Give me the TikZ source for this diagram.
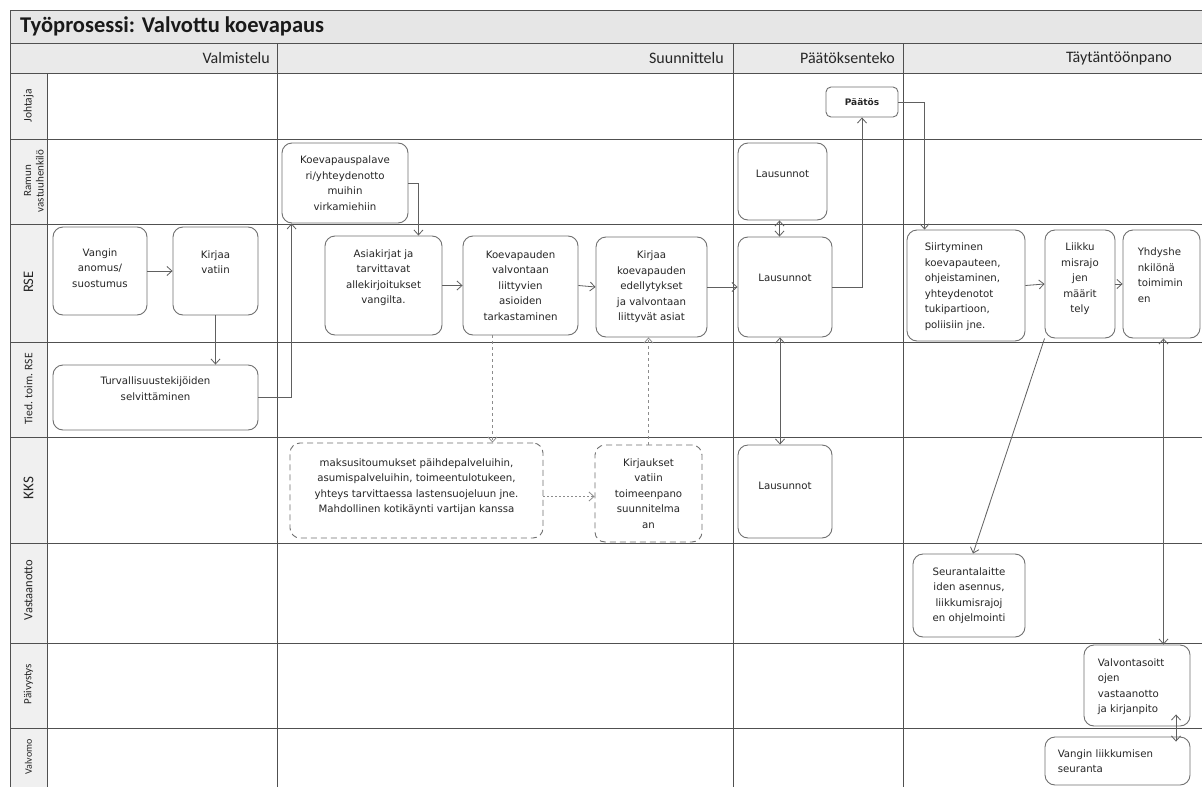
\documentclass[tikz,border=0pt]{standalone}
\usepackage{fontspec}
\usetikzlibrary{arrows.meta,calc,fit}
\newfontfamily\dvs{DejaVu Sans}
\newfontfamily\crl{Carlito}
\definecolor{linec}{HTML}{505050}
\definecolor{boxc}{HTML}{707070}
\definecolor{arrc}{HTML}{606060}
\definecolor{dashc}{HTML}{8C8C8C}
\definecolor{titlebg}{HTML}{E6E6E6}
\definecolor{headbg}{HTML}{EAEAEA}
\definecolor{lanebg}{HTML}{F0F0F0}
\newcommand\boxfont{\dvs\fontsize{10.2}{15.5}\selectfont}
\newcommand\mkbox[6]{%
  \path (#2,#3) coordinate (#1-a) (#4,#5) coordinate (#1-b);
  \node[#6, fit=(#1-a)(#1-b), inner sep=0pt] (#1) {};}
\tikzset{
  grid/.style={draw=linec, line width=1pt},
  box/.style={draw=boxc, rounded corners=10pt, line width=0.9pt, fill=white},
  sbox/.style={box, rounded corners=5pt},
  dbox/.style={box, dash pattern=on 6pt off 4pt},
  txt/.style={font=\boxfont, align=center, inner sep=0pt, text=black!85},
  ltxt/.style={font=\boxfont, align=left, inner sep=0pt, anchor=west, text=black!85},
  hlab/.style={font=\crl\fontsize{16}{18}\selectfont, inner sep=0pt, text=black!85},
  llab/.style={rotate=90, inner sep=0pt, align=center, text=black!85},
  tip/.tip={Straight Barb[length=5pt,width=9pt,line width=0.8pt]},
  arr/.style={draw=arrc, line width=0.8pt, -tip},
  dbl/.style={draw=arrc, line width=0.8pt, tip-tip},
  darr/.style={draw=dashc, line width=0.8pt, dash pattern=on 3pt off 3pt, -tip},
  dotarr/.style={draw=dashc, line width=0.8pt, dash pattern=on 2pt off 2pt, -tip},
}
\begin{document}
\begin{tikzpicture}[x=1pt,y=-1pt]
\useasboundingbox (0,0) rectangle (1202,787);
\clip (0,0) rectangle (1202,787);
% backgrounds
\fill[white] (0,0) rectangle (1202,787);
\fill[titlebg] (10,10) rectangle (1202,43);
\fill[headbg] (10,43) rectangle (1202,73);
\fill[lanebg] (10,73) rectangle (47,787);
% grid
\draw[grid] (10,787) -- (10,10) -- (1202,10);
\foreach \y in {43,73,139,224,342,437,543,643,728} \draw[grid] (10,\y) -- (1202,\y);
\draw[grid] (47,73) -- (47,787);
\foreach \x in {277,733,903} \draw[grid] (\x,43) -- (\x,787);
% title and phase headers
\node[anchor=west, inner sep=0pt, font=\crl\bfseries\fontsize{22.5}{26}\selectfont, text=black!90] (title) at (20,26) {Työprosessi: Valvottu koevapaus};
\node[hlab, anchor=east] (ph1) at (270,58) {Valmistelu};
\node[hlab, anchor=east] (ph2) at (724,58) {Suunnittelu};
\node[hlab, anchor=east] (ph3) at (895,58) {Päätöksenteko};
\node[hlab] (ph4) at (1119,58) {Täytäntöönpano};
% lane labels
\node[llab, font=\crl\fontsize{11.5}{13}\selectfont] (l1) at (28.5,106) {Johtaja};
\node[llab, font=\crl\fontsize{11}{12.5}\selectfont] (l2) at (34,181) {Ramun\\vastuuhenkilö};
\node[llab, font=\crl\fontsize{14.5}{16}\selectfont] (l3) at (28.5,282) {RSE};
\node[llab, font=\crl\fontsize{11.5}{13}\selectfont] (l4) at (28.5,389) {Tied. toim. RSE};
\node[llab, font=\crl\fontsize{15}{16}\selectfont] (l5) at (28.5,488) {KKS};
\node[llab, font=\crl\fontsize{12.5}{14}\selectfont] (l6) at (28.5,590) {Vastaanotto};
\node[llab, font=\crl\fontsize{11}{13}\selectfont] (l7) at (28.5,684) {Päivystys};
\node[llab, font=\crl\fontsize{10}{12}\selectfont] (l8) at (28.5,757) {Valvomo};
% boxes
\mkbox{vangin}{53}{227}{147}{315}{box}
\mkbox{kirjaa}{173}{227}{258}{315}{box}
\mkbox{turv}{53}{365}{258}{430}{box}
\mkbox{koeps}{282}{143}{408}{223}{box}
\mkbox{asiak}{325}{236}{442}{335}{box}
\mkbox{koev}{463}{236}{578}{335}{box}
\mkbox{kirjk}{596}{237}{707}{337}{box}
\mkbox{maks}{290}{443}{543}{538}{dbox}
\mkbox{kirjs}{595}{445}{702}{542}{dbox}
\mkbox{paatos}{826}{87}{898}{117}{sbox}
\mkbox{laus1}{738}{143}{827}{220}{box}
\mkbox{laus2}{738}{237}{832}{337}{box}
\mkbox{laus3}{738}{445}{832}{538}{box}
\mkbox{siirt}{907}{230}{1025}{341}{box}
\mkbox{liikku}{1045}{230}{1115}{338}{box}
\mkbox{yhd}{1123}{230}{1200}{338}{box}
\mkbox{seur}{913}{554}{1025}{637}{box}
\mkbox{valvs}{1084}{645}{1190}{726}{box}
\mkbox{vlk}{1045}{737}{1190}{785}{box}
% texts
\node[txt] (vangin-t) at ($(vangin)+(0,-3)$) {Vangin\\anomus/\\suostumus};
\node[txt] (kirjaa-t) at ($(kirjaa)+(0,-9)$) {Kirjaa\\vatiin};
\node[txt] (turv-t) at ($(turv)+(0,-9)$) {Turvallisuustekijöiden\\selvittäminen};
\node[txt] (koeps-t) at (koeps) {Koevapauspalave\\ri/yhteydenotto\\muihin\\virkamiehiin};
\node[txt] (asiak-t) at ($(asiak)+(0,-8)$) {Asiakirjat ja\\tarvittavat\\allekirjoitukset\\vangilta.};
\node[txt] (koev-t) at (koev) {Koevapauden\\valvontaan\\liittyvien\\asioiden\\tarkastaminen};
\node[txt] (kirjk-t) at (kirjk) {Kirjaa\\koevapauden\\edellytykset\\ja valvontaan\\liittyvät asiat};
\node[txt] (maks-t) at ($(maks)+(0,-4)$) {maksusitoumukset päihdepalveluihin,\\asumispalveluihin, toimeentulotukeen,\\yhteys tarvittaessa lastensuojeluun jne.\\Mahdollinen kotikäynti vartijan kanssa};
\node[txt] (kirjs-t) at (kirjs) {Kirjaukset\\vatiin\\toimeenpano\\suunnitelma\\an};
\node[txt, font=\dvs\bfseries\fontsize{9}{11}\selectfont] (paatos-t) at (paatos) {Päätös};
\node[txt] (laus1-t) at ($(laus1)+(0,-8)$) {Lausunnot};
\node[txt] (laus2-t) at ($(laus2)+(0,-9)$) {Lausunnot};
\node[txt] (laus3-t) at ($(laus3)+(0,-6)$) {Lausunnot};
\node[ltxt] (siirt-t) at ($(siirt.west)+(18,1)$) {Siirtyminen\\koevapauteen,\\ohjeistaminen,\\yhteydenotot\\tukipartioon,\\poliisiin jne.};
\node[txt] (liikku-t) at ($(liikku)+(0,-5)$) {Liikku\\misrajo\\jen\\määrit\\tely};
\node[ltxt] (yhd-t) at ($(yhd.west)+(15,-9)$) {Yhdyshe\\nkilönä\\toimimin\\en};
\node[txt] (seur-t) at (seur) {Seurantalaitte\\iden asennus,\\liikkumisrajoj\\en ohjelmointi};
\node[ltxt] (valvs-t) at ($(valvs.west)+(14,1)$) {Valvontasoitt\\ojen\\vastaanotto\\ja kirjanpito};
\node[ltxt] (vlk-t) at ($(vlk.west)+(13,0)$) {Vangin liikkumisen\\seuranta};
% connectors
\draw[arr] (vangin.east) -- (kirjaa.west);
\draw[arr] (kirjaa.south) -- (kirjaa.south |- turv.north);
\draw[arr] (turv.east) -| ([xshift=10pt]koeps.south west);
\draw[arr] (koeps.east) -| ([xshift=-24pt]asiak.north east);
\draw[arr] (asiak.east) -- (koev.west);
\draw[arr] (koev.east) -- (kirjk.west);
\draw[arr] (kirjk.east) -- (laus2.west);
\draw[darr] ([xshift=-28pt]koev.south) -- ([xshift=-28pt]koev.south |- maks.north);
\draw[darr] (kirjs.north) -- (kirjs.north |- kirjk.south);
\draw[dotarr] ([yshift=-6pt]maks.east) -- ([yshift=-6pt]maks.east -| kirjs.west);
\draw[dbl] ([xshift=-3pt]laus1.south) -- ([xshift=-3pt]laus1.south |- laus2.north);
\draw[arr] (laus2.east) -| (paatos.south);
\draw[dbl] ([xshift=-5pt]laus2.south) -- ([xshift=-5pt]laus2.south |- laus3.north);
\draw[arr] (paatos.east) -| ([xshift=18pt]siirt.north west);
\draw[arr] (siirt.east) -- (liikku.west);
\draw[arr] (liikku.east) -- (yhd.west);
\draw[arr] (liikku.south west) -- ([xshift=4pt]seur.north);
\draw[dbl] ([xshift=2pt]yhd.south) -- ([xshift=2pt]yhd.south |- valvs.north);
\draw[dbl] ([xshift=39pt,yshift=12pt]valvs.south) -- ([xshift=39pt,yshift=-5pt]valvs.south |- vlk.north);
\end{tikzpicture}
\end{document}
